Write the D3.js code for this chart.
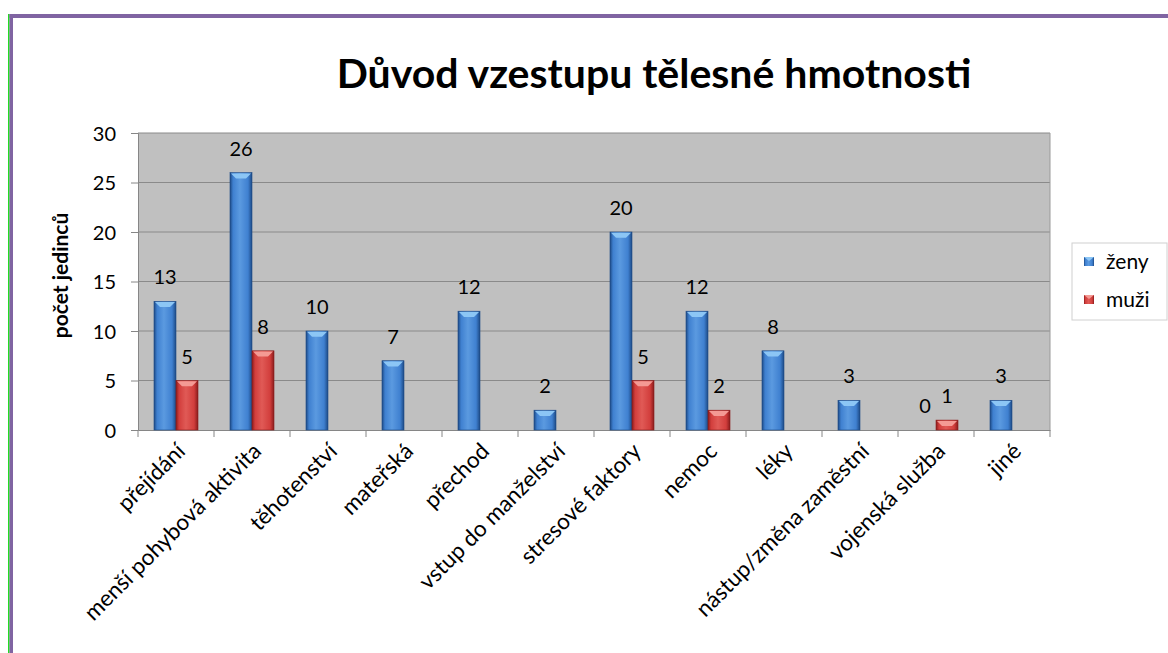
<!DOCTYPE html>
<html>
<head>
<meta charset="utf-8">
<script src="https://cdn.jsdelivr.net/npm/d3@7"></script>
<style>
  html, body { margin: 0; padding: 0; background: #fff; }
  svg text { font-family: Lato, "Open Sans", sans-serif; fill: #000; }
</style>
</head>
<body>
<div id="chart"></div>
<script>
  const categories = [
    'přejídání', 'menší pohybová aktivita', 'těhotenství', 'mateřská', 'přechod',
    'vstup do manželství', 'stresové faktory', 'nemoc', 'léky',
    'nástup/změna zaměstní', 'vojenská služba', 'jiné'
  ];
  const zeny = [13, 26, 10, 7, 12, 2, 20, 12, 8, 3, 0, 3];
  const muzi = [5, 8, null, null, null, null, 5, 2, null, null, 1, null];
  const seriesNames = ['ženy', 'muži'];
  const yTicks = [0, 5, 10, 15, 20, 25, 30];

  const W = 1168, H = 653;
  const margin = {top: 133, right: 118, bottom: 223, left: 138};
  const width = W - margin.left - margin.right;
  const height = H - margin.top - margin.bottom;

  const svg = d3.select('#chart').append('svg')
    .attr('width', W)
    .attr('height', H);

  // gradients for the bevelled bars
  const defs = svg.append('defs');
  const palette = {
    'ženy': {edge: '#1d4a85', mid: '#3f80d0', light: '#5b9ae0', tip: '#8cc6f5'},
    'muži': {edge: '#8a1c1c', mid: '#d23e3c', light: '#e05a56', tip: '#f49a94'}
  };
  seriesNames.forEach(function (name, i) {
    const c = palette[name];
    const g = defs.append('linearGradient')
      .attr('id', 'grad' + i)
      .attr('x1', '0%').attr('x2', '100%').attr('y1', '0%').attr('y2', '0%');
    g.append('stop').attr('offset', '0%').attr('stop-color', c.edge);
    g.append('stop').attr('offset', '14%').attr('stop-color', c.mid);
    g.append('stop').attr('offset', '45%').attr('stop-color', c.light);
    g.append('stop').attr('offset', '82%').attr('stop-color', c.mid);
    g.append('stop').attr('offset', '100%').attr('stop-color', c.edge);
  });

  // frame lines
  svg.append('rect').attr('x', 8).attr('y', 14).attr('width', 1.5).attr('height', H - 14).attr('fill', '#22dd22');
  svg.append('rect').attr('x', 9.5).attr('y', 14).attr('width', 3.5).attr('height', H - 14).attr('fill', '#8064a2');
  svg.append('rect').attr('x', 9.5).attr('y', 14).attr('width', W).attr('height', 4).attr('fill', '#8064a2');

  const x = d3.scaleBand()
    .domain(categories)
    .range([0, width])
    .padding(0);

  const xSub = d3.scaleBand()
    .domain(seriesNames)
    .range([0, x.bandwidth()])
    .paddingInner(0)
    .paddingOuter(0.727);

  const y = d3.scaleLinear()
    .domain([0, 30])
    .range([height, 0]);

  const g = svg.append('g')
    .attr('transform', 'translate(' + margin.left + ',' + margin.top + ')');

  g.append('rect')
    .attr('width', width)
    .attr('height', height)
    .attr('fill', '#c0c0c0');

  // gridlines
  g.append('g')
    .selectAll('line')
    .data(yTicks.filter(function (d) { return d > 0; }))
    .join('line')
    .attr('x1', 0).attr('x2', width)
    .attr('y1', function (d) { return y(d); })
    .attr('y2', function (d) { return y(d); })
    .attr('stroke', '#8a8a8a')
    .attr('stroke-width', 1);

  g.append('line')
    .attr('x1', width).attr('x2', width)
    .attr('y1', 0).attr('y2', height)
    .attr('stroke', '#9a9a9a');

  // axes
  const yAxis = g.append('g')
    .call(d3.axisLeft(y).tickValues(yTicks).tickSize(7).tickPadding(15));
  yAxis.select('.domain').attr('stroke', '#868686');
  yAxis.selectAll('.tick line').attr('stroke', '#868686');
  yAxis.selectAll('.tick text')
    .style('font-size', '20px')
    .attr('dy', '0.36em');

  const xAxis = g.append('g')
    .attr('transform', 'translate(0,' + height + ')')
    .call(d3.axisBottom(x).tickValues([]).tickSizeOuter(0));
  xAxis.select('.domain').attr('stroke', '#868686');

  // category boundary ticks
  g.append('g')
    .selectAll('line')
    .data(d3.range(categories.length + 1))
    .join('line')
    .attr('x1', function (i) { return i * x.step(); })
    .attr('x2', function (i) { return i * x.step(); })
    .attr('y1', height).attr('y2', height + 7)
    .attr('stroke', '#868686');

  // rotated category labels
  g.append('g')
    .selectAll('text')
    .data(categories)
    .join('text')
    .attr('transform', function (d) {
      return 'translate(' + (x(d) + x.bandwidth() / 2 + 5) + ',' + (height + 17) + ') rotate(-45)';
    })
    .attr('text-anchor', 'end')
    .attr('dy', '0.35em')
    .style('font-size', '22.5px')
    .text(function (d) { return d; });

  // bars
  const rows = categories.map(function (c, i) {
    return {cat: c, values: [zeny[i], muzi[i]]};
  });

  const groups = g.append('g')
    .selectAll('g')
    .data(rows)
    .join('g')
    .attr('transform', function (d) { return 'translate(' + x(d.cat) + ',0)'; });

  const items = groups.selectAll('g')
    .data(function (d) {
      return d.values.map(function (v, i) { return {name: seriesNames[i], idx: i, value: v}; });
    })
    .join('g')
    .filter(function (d) { return d.value !== null; });

  const bw = xSub.bandwidth();

  items.filter(function (d) { return d.value > 0; })
    .append('rect')
    .attr('x', function (d) { return xSub(d.name); })
    .attr('y', function (d) { return y(d.value); })
    .attr('width', bw)
    .attr('height', function (d) { return height - y(d.value); })
    .attr('fill', function (d) { return 'url(#grad' + d.idx + ')'; })
    .attr('stroke', function (d) { return palette[d.name].edge; })
    .attr('stroke-width', 0.6);

  // bevel tip on top of each bar
  items.filter(function (d) { return d.value > 0; })
    .append('path')
    .attr('d', function (d) {
      const x0 = xSub(d.name) + 1, x1 = xSub(d.name) + bw - 1, t = y(d.value) + 0.8;
      return 'M' + x0 + ',' + t + 'L' + x1 + ',' + t + 'L' + (x1 - 5) + ',' + (t + 5) +
        'L' + (x0 + 5) + ',' + (t + 5) + 'Z';
    })
    .attr('fill', function (d) { return palette[d.name].tip; });

  // data labels
  items.append('text')
    .attr('x', function (d) { return xSub(d.name) + bw / 2; })
    .attr('y', function (d) { return y(d.value) - 17; })
    .attr('text-anchor', 'middle')
    .style('font-size', '20px')
    .text(function (d) { return d.value; });

  // title
  svg.append('text')
    .attr('x', 654)
    .attr('y', 88)
    .attr('text-anchor', 'middle')
    .style('font-size', '41px')
    .style('font-weight', 'bold')
    .text('Důvod vzestupu tělesné hmotnosti');

  // y axis title
  svg.append('text')
    .attr('transform', 'translate(68,' + (margin.top + height / 2 - 6) + ') rotate(-90)')
    .attr('text-anchor', 'middle')
    .style('font-size', '21px')
    .style('font-weight', 'bold')
    .text('počet jedinců');

  // legend
  const legend = svg.append('g')
    .attr('transform', 'translate(1072,243)');
  legend.append('rect')
    .attr('width', 95).attr('height', 77)
    .attr('fill', '#fff')
    .attr('stroke', '#d0d0d0');
  seriesNames.forEach(function (name, i) {
    const row = legend.append('g')
      .attr('transform', 'translate(12,' + (14 + i * 38) + ')');
    row.append('rect')
      .attr('width', 10).attr('height', 9)
      .attr('fill', 'url(#grad' + i + ')');
    row.append('path')
      .attr('d', 'M0,0L10,0L5,4Z')
      .attr('fill', palette[name].tip);
    row.append('text')
      .attr('x', 22)
      .attr('y', 5)
      .attr('dy', '0.35em')
      .style('font-size', '21px')
      .text(name);
  });
</script>
</body>
</html>
